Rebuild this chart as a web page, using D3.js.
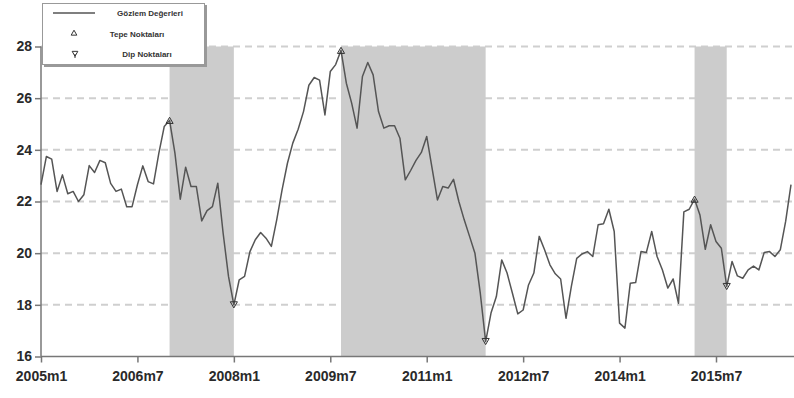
<!DOCTYPE html>
<html>
<head>
<meta charset="utf-8">
<script src="https://cdn.jsdelivr.net/npm/d3@7"></script>
<style>
  html, body { margin: 0; padding: 0; background: #fff; }
  svg { display: block; }
  text { font-family: "Liberation Sans", Arial, sans-serif; }
</style>
</head>
<body>
<svg id="chart" width="794" height="398"></svg>
<script>
// ---- data (monthly, starting 2005m1) ----
const startYear = 2005;
const values = [
  22.65, 23.74, 23.64, 22.39, 23.03, 22.30, 22.39, 22.00, 22.26, 23.39, 23.12, 23.59,
  23.50, 22.70, 22.39, 22.48, 21.80, 21.80, 22.65, 23.38, 22.77, 22.68, 23.87, 24.90,
  25.14, 23.87, 22.09, 23.33, 22.58, 22.58, 21.25, 21.65, 21.80, 22.71, 20.77, 19.10,
  18.00, 18.97, 19.10, 20.06, 20.52, 20.80, 20.58, 20.26, 21.29, 22.45, 23.48, 24.26,
  24.80, 25.48, 26.50, 26.80, 26.70, 25.35, 27.03, 27.30, 27.85, 26.58, 25.80, 24.84,
  26.84, 27.38, 26.90, 25.48, 24.84, 24.93, 24.93, 24.45, 22.84, 23.20, 23.59, 23.90,
  24.52, 23.29, 22.06, 22.58, 22.52, 22.86, 22.00, 21.29, 20.65, 20.00, 18.45, 16.58,
  17.68, 18.32, 19.74, 19.23, 18.45, 17.65, 17.80, 18.77, 19.23, 20.65, 20.13, 19.55,
  19.20, 19.00, 17.48, 18.71, 19.80, 19.97, 20.06, 19.87, 21.10, 21.14, 21.70, 20.84,
  17.29, 17.10, 18.84, 18.86, 20.06, 20.03, 20.84, 19.87, 19.35, 18.65, 19.00, 18.06,
  21.60, 21.70, 22.09, 21.48, 20.15, 21.10, 20.45, 20.19, 18.71, 19.68, 19.12, 19.03,
  19.35, 19.50, 19.35, 20.03, 20.06, 19.87, 20.13, 21.23, 22.65
];
const peaks   = ["2007m1", "2009m9", "2015m3"];   // Tepe noktaları
const troughs = ["2008m1", "2011m12", "2015m9"];  // Dip noktaları
const xTickLabels = ["2005m1", "2006m7", "2008m1", "2009m7", "2011m1", "2012m7", "2014m1", "2015m7"];
const yTicks = [16, 18, 20, 22, 24, 26, 28];
const legendLabels = ["Gözlem Değerleri", "Tepe Noktaları", "Dip Noktaları"];

// ---- helpers ----
function labelOf(i) {
  return (startYear + Math.floor(i / 12)) + "m" + (i % 12 + 1);
}
function indexOf(lbl) {
  const [yy, mm] = lbl.split("m").map(Number);
  return (yy - startYear) * 12 + (mm - 1);
}
const data = values.map((v, i) => ({ i, label: labelOf(i), v }));

// ---- layout ----
const svg = d3.select("#chart");
const plotL = 41, plotR = 794, plotT = 46.5, plotB = 356.5;

const x = d3.scaleLinear().domain([0, 140.56]).range([plotL, plotR]);
const y = d3.scaleLinear().domain([16, 28]).range([plotB, plotT]);

// grid lines
svg.append("g")
  .selectAll("line")
  .data(yTicks.filter(t => t > 16))
  .join("line")
  .attr("x1", plotL).attr("x2", plotR)
  .attr("y1", d => y(d)).attr("y2", d => y(d))
  .attr("stroke", "#cfcfcf")
  .attr("stroke-width", 2)
  .attr("stroke-dasharray", "7,5");

// recession shading (peak -> trough)
const bands = peaks.map((p, k) => [indexOf(p), indexOf(troughs[k])]);
svg.append("g")
  .selectAll("rect")
  .data(bands)
  .join("rect")
  .attr("x", d => x(d[0]))
  .attr("width", d => x(d[1]) - x(d[0]))
  .attr("y", y(28))
  .attr("height", y(16) - y(28))
  .attr("fill", "#cccccc");

// axes
const yAxis = d3.axisLeft(y).tickValues(yTicks).tickSize(6).tickPadding(3);
const gy = svg.append("g").attr("transform", `translate(${plotL},0)`).call(yAxis);

const xAxis = d3.axisBottom(x)
  .tickValues(xTickLabels.map(indexOf))
  .tickFormat(d => labelOf(d))
  .tickSize(6).tickPadding(9);
const gx = svg.append("g").attr("transform", `translate(0,${plotB})`).call(xAxis);

[gx, gy].forEach(g => {
  g.select(".domain").attr("stroke", "#777").attr("stroke-width", 1.5);
  g.selectAll(".tick line").attr("stroke", "#777").attr("stroke-width", 1.5);
  g.selectAll(".tick text")
    .attr("fill", "#2a2a2a")
    .style("font-size", "14px")
    .style("font-weight", "bold")
    .style("font-family", "'Liberation Sans', Arial, sans-serif");
});
gx.select(".domain").attr("d", `M${plotL},0H${plotR}`);
gy.select(".domain").attr("d", `M0,${plotB}V${plotT}`);

// series line
const line = d3.line().x(d => x(d.i)).y(d => y(d.v));
svg.append("path")
  .datum(data)
  .attr("fill", "none")
  .attr("stroke", "#555")
  .attr("stroke-width", 1.5)
  .attr("stroke-linejoin", "round")
  .attr("d", line);

// markers
const triUp = d3.symbol().type(d3.symbolTriangle).size(22);
const byLabel = new Map(data.map(d => [d.label, d]));
svg.append("g")
  .selectAll("path")
  .data(peaks.map(p => byLabel.get(p)))
  .join("path")
  .attr("d", triUp)
  .attr("transform", d => `translate(${x(d.i)},${y(d.v) + 1})`)
  .attr("fill", "none")
  .attr("stroke", "#333")
  .attr("stroke-width", 1);
svg.append("g")
  .selectAll("path")
  .data(troughs.map(p => byLabel.get(p)))
  .join("path")
  .attr("d", triUp)
  .attr("transform", d => `translate(${x(d.i)},${y(d.v) - 1}) rotate(180)`)
  .attr("fill", "none")
  .attr("stroke", "#333")
  .attr("stroke-width", 1);

// legend
const lg = svg.append("g");
lg.append("rect").attr("x", 44).attr("y", 5).attr("width", 163).attr("height", 62).attr("fill", "#999");
lg.append("rect").attr("x", 42.5).attr("y", 3.5).attr("width", 162).attr("height", 61)
  .attr("fill", "#fff").attr("stroke", "#999").attr("stroke-width", 1);
const rowsY = [13, 33.5, 54];
lg.append("line").attr("x1", 53).attr("x2", 95).attr("y1", rowsY[0]).attr("y2", rowsY[0])
  .attr("stroke", "#555").attr("stroke-width", 1.5);
lg.append("path").attr("d", d3.symbol().type(d3.symbolTriangle).size(14))
  .attr("transform", `translate(74,${rowsY[1]})`)
  .attr("fill", "none").attr("stroke", "#333").attr("stroke-width", 1);
lg.append("path").attr("d", d3.symbol().type(d3.symbolTriangle).size(14))
  .attr("transform", `translate(75,${rowsY[2] - 1}) rotate(180)`)
  .attr("fill", "none").attr("stroke", "#333").attr("stroke-width", 1);
lg.append("line").attr("x1", 75).attr("x2", 75).attr("y1", rowsY[2]).attr("y2", rowsY[2] + 4)
  .attr("stroke", "#333").attr("stroke-width", 1);
const textX = [150, 137, 147];
lg.selectAll("text.lbl")
  .data(legendLabels)
  .join("text")
  .attr("class", "lbl")
  .attr("x", (d, k) => textX[k])
  .attr("y", (d, k) => rowsY[k] + 3)
  .attr("text-anchor", "middle")
  .attr("fill", "#333")
  .style("font-size", "8px")
  .style("font-weight", "bold")
  .text(d => d);
</script>
</body>
</html>
